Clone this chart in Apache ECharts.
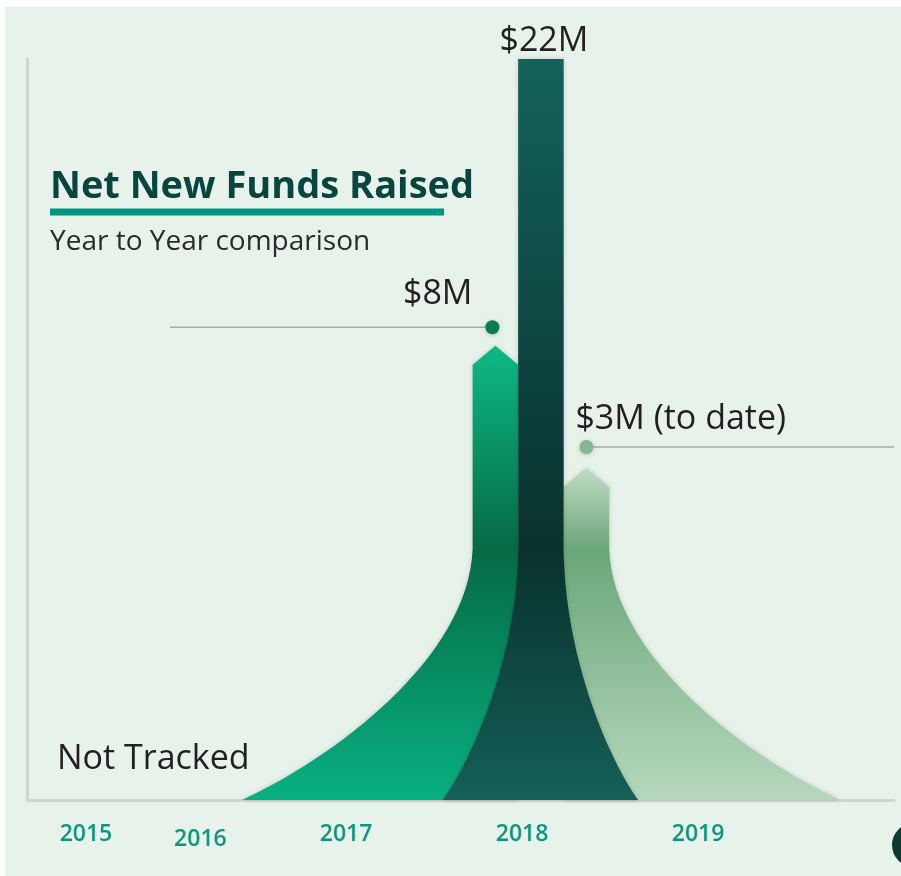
<!DOCTYPE html>
<html>
<head>
<meta charset="utf-8">
<style>
  html, body { margin: 0; padding: 0; background: #fff; }
  #chart { width: 901px; height: 876px; }
</style>
<script src="https://cdn.jsdelivr.net/npm/echarts@6.0.0/dist/echarts.min.js"></script>
</head>
<body>
<div id="chart"></div>
<script>
  // ---- data ----
  const years = ['2015', '2016', '2017', '2018', '2019']
  const fundsRaised = [null, null, 8, 22, 3]              // $M, null = not tracked
  const fundLabels = ['', '', '$8M', '$22M', '$3M (to date)']
  // drawn height of each shape (% of plot height, not to scale)
  const shapeHeight = [null, null, 61.3, 100, 44.8]
  const notTrackedText = 'Not Tracked'

  // ---- layout (x axis runs 0..100 across the plot) ----
  const yearTickPos = [6.8, 20.0, 36.8, 57.1, 77.4]
  const shapeLayout = {
    columnStart: 51.4,
    columnWidth: 5.25,
    neckLevel: 33.9,
    arrowDepth: 19,
    arrowTop: [true, false, true],
    flareLeft: [26.6, 8.7, 0],
    flareRight: [0, 8.6, 26.7],
    labelSide: ['left', 'top', 'right'],
    leaderEnd: [16.5, null, 100]
  }
  const shapeColors = [
    ['#0cb986', '#066a45', '#08b081'],
    ['#13625b', '#09312d', '#146058'],
    ['#c0dbc4', '#6ba779', '#b6d7bc']
  ]
  const dotColors = ['#0b7b57', null, '#86b791']
  const labelFont = '500 34px "Open Sans", sans-serif'
  const firstTracked = years.findIndex((y, i) => shapeHeight[i] != null)

  const chart = echarts.init(document.getElementById('chart'))

  function renderShape(params, api) {
    const idx = api.value(0)
    const h = api.value(1)
    const k = idx - firstTracked
    const L = shapeLayout
    const left = L.columnStart + k * L.columnWidth
    const right = left + L.columnWidth
    const [xl, yTop] = api.coord([left, h])
    const xr = api.coord([right, h])[0]
    const xm = (xl + xr) / 2
    const yBase = api.coord([left, 0])[1]
    const yNeck = api.coord([left, L.neckLevel])[1]
    const fl = api.size([L.flareLeft[k], 0])[0]
    const fr = api.size([L.flareRight[k], 0])[0]
    const fh = yBase - yNeck
    const arrow = L.arrowTop[k]
    const yShoulder = arrow ? yTop + L.arrowDepth : yTop

    let d = arrow
      ? `M${xl},${yShoulder} L${xm},${yTop} L${xr},${yShoulder}`
      : `M${xl},${yTop} L${xr},${yTop}`
    d += ` L${xr},${yNeck}`
    d += fr > 0
      ? ` C${xr + fr * 0.017},${yNeck + fh * 0.44} ${xr + fr * 0.617},${yNeck + fh * 0.84} ${xr + fr},${yBase}`
      : ` L${xr},${yBase}`
    d += ` L${xl - fl},${yBase}`
    d += fl > 0
      ? ` C${xl - fl * 0.617},${yNeck + fh * 0.84} ${xl - fl * 0.017},${yNeck + fh * 0.44} ${xl},${yNeck}`
      : ` L${xl},${yNeck}`
    d += ' Z'

    const c = shapeColors[k]
    const fill = new echarts.graphic.LinearGradient(0, yTop, 0, yBase, [
      { offset: 0, color: c[0] },
      { offset: (yNeck - yTop) / (yBase - yTop), color: c[1] },
      { offset: 1, color: c[2] }
    ], true)

    const children = [{
      type: 'path',
      z2: Math.round(h),
      shape: { pathData: d },
      style: { fill: fill, shadowBlur: 5, shadowColor: 'rgba(0, 30, 20, 0.18)' }
    }]

    const side = L.labelSide[k]
    const text = fundLabels[idx]
    if (side === 'top') {
      children.push({
        type: 'text', z2: 200,
        style: { x: xm + 3, y: yTop - 18, text: text, font: labelFont, fill: '#231f20', align: 'center', verticalAlign: 'middle' }
      })
    } else {
      const dotX = side === 'left' ? xm - 3 : xm
      const dotY = side === 'left' ? yTop - 18.5 : yTop - 21
      const endX = api.coord([L.leaderEnd[k], 0])[0]
      children.push({
        type: 'line', z2: 150,
        shape: { x1: dotX, y1: dotY, x2: endX, y2: dotY },
        style: { stroke: '#a9aaa9', lineWidth: 1.5 }
      })
      children.push({
        type: 'circle', z2: 160,
        shape: { cx: dotX, cy: dotY, r: 7 },
        style: { fill: dotColors[k], shadowBlur: 4, shadowColor: 'rgba(0,0,0,0.2)', shadowOffsetY: 1 }
      })
      children.push({
        type: 'text', z2: 200,
        style: side === 'left'
          ? { x: dotX - 20, y: dotY - 33, text: text, font: labelFont, fill: '#231f20', align: 'right', verticalAlign: 'middle' }
          : { x: dotX - 11, y: dotY - 28, text: text, font: labelFont, fill: '#231f20', align: 'left', verticalAlign: 'middle' }
      })
    }
    return { type: 'group', children: children }
  }

  const seriesData = []
  years.forEach((y, i) => {
    if (shapeHeight[i] != null) seriesData.push([i, shapeHeight[i], fundsRaised[i]])
  })

  const option = {
    backgroundColor: '#ffffff',
    animation: false,
    grid: { left: 27, right: 7, top: 59, bottom: 76 },
    xAxis: {
      type: 'value',
      min: 0,
      max: 100,
      splitLine: { show: false },
      axisTick: { show: false },
      axisLine: { show: true, lineStyle: { color: '#d3d5d3', width: 3 } },
      axisLabel: {
        customValues: yearTickPos,
        margin: 23,
        formatter: (value) => {
          let best = 0
          yearTickPos.forEach((p, i) => {
            if (Math.abs(p - value) < Math.abs(yearTickPos[best] - value)) best = i
          })
          return (best === 1 ? '{low|' : '{n|') + years[best] + '}'
        },
        rich: {
          n: { fontFamily: 'Open Sans', fontWeight: 600, fontSize: 23, color: '#10967f' },
          low: { fontFamily: 'Open Sans', fontWeight: 600, fontSize: 23, color: '#10967f', padding: [5, 0, 0, 0] }
        }
      }
    },
    yAxis: {
      type: 'value',
      min: 0,
      max: 100,
      splitLine: { show: false },
      axisTick: { show: false },
      axisLabel: { show: false },
      axisLine: { show: true, lineStyle: { color: '#d3d5d3', width: 3 } }
    },
    graphic: [
      { type: 'rect', z: -10, silent: true, x: 5, y: 7, shape: { width: 896, height: 869 }, style: { fill: '#e7f2eb' } },
      { type: 'circle', z: 10, x: 914, y: 845, shape: { r: 22 }, style: { fill: '#0e3b2f' } },
      { type: 'text', z: 10, x: 50, y: 187, style: { text: 'Net New Funds Raised', font: '700 38px "Open Sans", sans-serif', fill: '#084540', verticalAlign: 'middle' } },
      { type: 'rect', z: 10, x: 50, y: 208.5, shape: { width: 394, height: 7 }, style: { fill: '#009580' } },
      { type: 'text', z: 10, x: 50, y: 242, style: { text: 'Year to Year comparison', font: '400 28px "Open Sans", sans-serif', fill: '#2a2a2a', verticalAlign: 'middle' } },
      { type: 'text', z: 10, x: 57, y: 759, style: { text: notTrackedText, font: '500 34px "Open Sans", sans-serif', fill: '#231f20', verticalAlign: 'middle' } }
    ],
    series: [{
      type: 'custom',
      coordinateSystem: 'cartesian2d',
      renderItem: renderShape,
      encode: { x: 0, y: 1 },
      data: seriesData,
      z: 3
    }]
  }

  chart.setOption(option)
</script>
</body>
</html>
